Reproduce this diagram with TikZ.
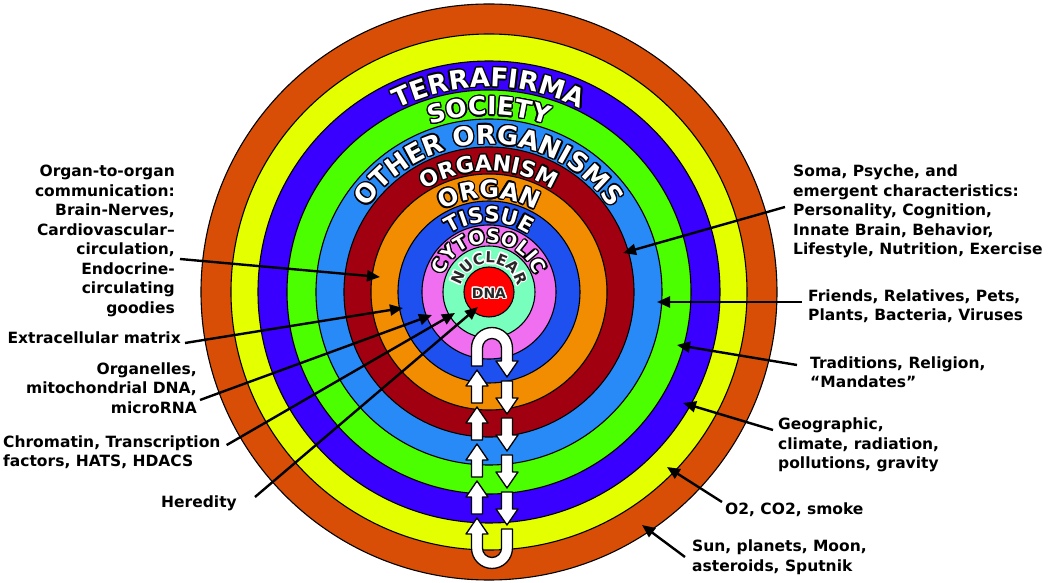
\documentclass[tikz,border=0pt]{standalone}
\usepackage{fontspec}
\setmainfont{DejaVu Sans}
\usepackage[copies]{contour}
\usetikzlibrary{arrows.meta,decorations.text}
\contourlength{1.3pt}
\contournumber{16}

\definecolor{ringSun}{RGB}{217,78,6}
\definecolor{ringAir}{RGB}{228,255,0}
\definecolor{ringTerra}{RGB}{58,0,255}
\definecolor{ringSociety}{RGB}{76,255,0}
\definecolor{ringOthers}{RGB}{40,138,246}
\definecolor{ringOrganism}{RGB}{160,0,16}
\definecolor{ringOrgan}{RGB}{242,140,0}
\definecolor{ringTissue}{RGB}{30,80,240}
\definecolor{ringCyto}{RGB}{240,110,240}
\definecolor{ringNuc}{RGB}{120,255,190}
\definecolor{ringDNA}{RGB}{255,0,0}
\definecolor{coreink}{RGB}{40,40,40}

\newcommand\ringchar[1]{\contour{black}{#1}}
\newcommand\corechar[1]{\contour{white}{#1}}
\newcommand\lblfont{\bfseries\fontsize{15.5}{19.5}\selectfont}

\tikzset{
  ring/.style={draw=black, line width=1.1pt},
  ringtext/.style 2 args={decorate, decoration={text effects along path, text={#2}, text align=center,
      text effects/.cd, text along path, character command=\ringchar,
      characters={font=\bfseries\fontsize{#1}{#1}\selectfont, text=white}}},
  coretext/.style 2 args={decorate, decoration={text effects along path, text={#2}, text align=center,
      text effects/.cd, text along path, character command=\corechar,
      characters={font=\bfseries\fontsize{#1}{#1}\selectfont, text=coreink}}},
  block/.style={draw=black, fill=white, line width=1.3pt, line join=round},
  lbl/.style={font=\lblfont, inner sep=0pt},
  pointer/.style={line width=2.4pt, -{Triangle[length=13pt, width=11pt]}}
}

\begin{document}
\begin{tikzpicture}[x=1pt, y=1pt]
  \useasboundingbox (-489,-291) rectangle (561,292);
  % rings, outside in
  \foreach \r/\c in {288/ringSun, 258/ringAir, 231/ringTerra, 202/ringSociety,
                     173/ringOthers, 145/ringOrganism, 118/ringOrgan, 91/ringTissue,
                     67/ringCyto, 46/ringNuc, 25/ringDNA}
    \draw[ring, fill=\c] (0,0) circle[radius=\r];

  % ring names
  \path[ringtext={26}{TERRAFIRMA}] (160:205) arc[start angle=160, end angle=20, radius=205];
  \path[ringtext={25}{SOCIETY}] (160:177) arc[start angle=160, end angle=20, radius=177];
  \path[ringtext={26}{OTHER ORGANISMS}] (175:148) arc[start angle=175, end angle=5, radius=148];
  \path[ringtext={22}{ORGANISM}] (170:121) arc[start angle=170, end angle=10, radius=121];
  \path[ringtext={24}{ORGAN}] (170:94) arc[start angle=170, end angle=10, radius=94];
  \path[ringtext={21}{TISSUE}] (175:70) arc[start angle=175, end angle=5, radius=70];
  \path[ringtext={19}{CYTOSOLIC}] (178:49) arc[start angle=178, end angle=2, radius=49];
  \path[coretext={15}{NUCLEAR}] (178:29) arc[start angle=178, end angle=2, radius=29];
  \node[font=\bfseries\fontsize{14}{14}\selectfont, text=coreink] (dna) at (0,-2) {\corechar{DNA}};

  % turning arrows
  \draw[block] (-17.5,-74) -- (-17.5,-56) arc[start angle=180, end angle=0, radius=20.5]
    -- (23.5,-69) -- (29,-69) -- (18,-85) -- (7,-69) -- (12.5,-69) -- (12.5,-56)
    arc[start angle=0, end angle=180, radius=9.5] -- (-6.5,-74) -- cycle;
  \draw[block] (12.5,-237) -- (23.5,-237) -- (23.5,-256) arc[start angle=0, end angle=-180, radius=20.5]
    -- (-17.5,-242) -- (-23,-242) -- (-12,-226) -- (-1,-242) -- (-6.5,-242) -- (-6.5,-256)
    arc[start angle=180, end angle=360, radius=9.5] -- cycle;
  \foreach \t in {-78,-115,-152,-189}
    \draw[block] (-12,\t) -- ++(11,-16) -- ++(-5.5,0) -- ++(0,-17) -- ++(-11,0) -- ++(0,17) -- ++(-5.5,0) -- cycle;
  \foreach \t in {-89,-126,-163,-200}
    \draw[block] (12.5,\t) -- ++(11,0) -- ++(0,-17) -- ++(5.5,0) -- ++(-11,-16) -- ++(-11,16) -- ++(5.5,0) -- cycle;

  % arrow tips
  \coordinate (tipOrgan) at (-109,15);
  \coordinate (tipTissue) at (-86,-16);
  \coordinate (tipCyto) at (-57,-23);
  \coordinate (tipNuc) at (-34,-21);
  \coordinate (tipDNA) at (-11,-15);
  \coordinate (tipOrganism) at (134,39);
  \coordinate (tipOthers) at (168,-10);
  \coordinate (tipSociety) at (188,-53);
  \coordinate (tipTerra) at (194,-111);
  \coordinate (tipAir) at (178,-175);
  \coordinate (tipSun) at (153,-233);

  % left labels
  \node[lbl, align=right, anchor=east] (orgcomm) at (-314,51) {Organ-to-organ\\communication:\\Brain-Nerves,\\Cardiovascular--\\circulation,\\Endocrine-\\circulating\\goodies};
  \node[lbl, anchor=east] (matrix) at (-308,-46) {Extracellular matrix};
  \node[lbl, align=right, anchor=east] (organelles) at (-292,-96) {Organelles,\\mitochondrial DNA,\\microRNA};
  \node[lbl, align=left, anchor=west] (chromatin) at (-486,-160) {Chromatin, Transcription\\factors, HATS, HDACS};
  \node[lbl, anchor=east] (heredity) at (-252,-211) {Heredity};

  % right labels
  \node[lbl, align=left, anchor=west] (soma) at (304,80.5) {Soma, Psyche, and\\emergent characteristics:\\Personality, Cognition,\\Innate Brain, Behavior,\\Lifestyle, Nutrition, Exercise};
  \node[lbl, align=left, anchor=west] (friends) at (319,-14) {Friends, Relatives, Pets,\\Plants, Bacteria, Viruses};
  \node[lbl, align=left, anchor=west] (traditions) at (321,-80) {Traditions, Religion,\\“Mandates”};
  \node[lbl, align=left, anchor=west] (geo) at (289,-153) {Geographic,\\climate, radiation,\\pollutions, gravity};
  \node[lbl, anchor=west] (gases) at (236,-218) {O2, CO2, smoke};
  \node[lbl, align=left, anchor=west] (cosmos) at (203,-265) {Sun, planets, Moon,\\asteroids, Sputnik};

  % pointers
  \draw[pointer] ([shift={(5,-18)}]orgcomm.east) -- (tipOrgan);
  \draw[pointer] ([shift={(4,-5)}]matrix.east) -- (tipTissue);
  \draw[pointer] ([shift={(3,-12)}]organelles.east) -- (tipCyto);
  \draw[pointer] ([shift={(6,-10)}]chromatin.north east) -- (tipNuc);
  \draw[pointer] ([shift={(18,6)}]heredity.east) -- (tipDNA);
  \draw[pointer] ([shift={(-8,4.5)}]soma.west) -- (tipOrganism);
  \draw[pointer] ([shift={(-6,4)}]friends.west) -- (tipOthers);
  \draw[pointer] ([shift={(-13,7)}]traditions.west) -- (tipSociety);
  \draw[pointer] ([shift={(-5,15)}]geo.west) -- (tipTerra);
  \draw[pointer] ([shift={(-3,8)}]gases.west) -- (tipAir);
  \draw[pointer] ([shift={(-7,0)}]cosmos.west) -- (tipSun);
\end{tikzpicture}
\end{document}
